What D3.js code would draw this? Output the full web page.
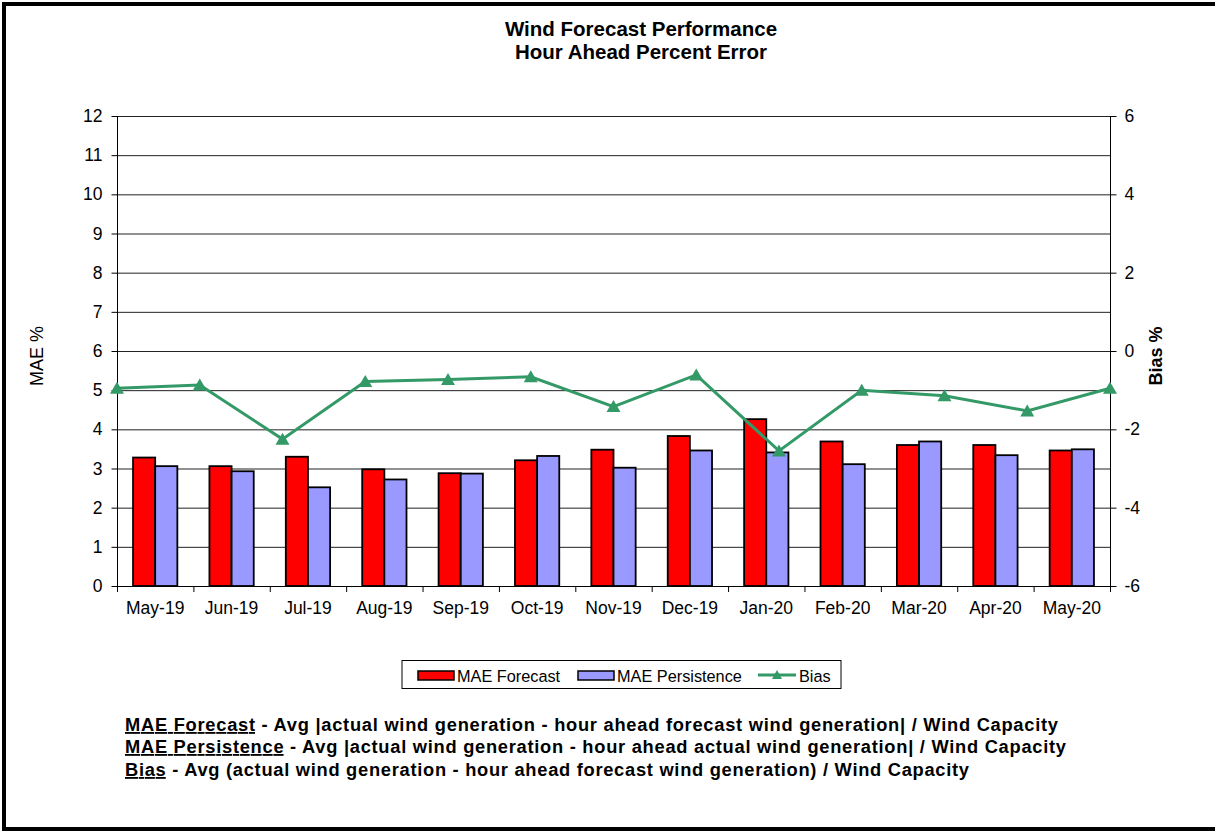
<!DOCTYPE html>
<html><head><meta charset="utf-8">
<script src="https://cdn.jsdelivr.net/npm/d3@7"></script>
<style>
body{margin:0;background:#fff;}
svg{display:block;font-family:Arial,"Liberation Sans",sans-serif;}
</style></head>
<body><svg id="c" width="1215" height="833"></svg>
<script>
const categories = ["May-19","Jun-19","Jul-19","Aug-19","Sep-19","Oct-19","Nov-19","Dec-19","Jan-20","Feb-20","Mar-20","Apr-20","May-20"];
const maeForecast = [3.28,3.06,3.30,2.98,2.88,3.21,3.48,3.83,4.26,3.69,3.60,3.60,3.46];
const maePersistence = [3.06,2.93,2.52,2.72,2.87,3.32,3.02,3.46,3.41,3.11,3.69,3.34,3.49];
const bias = [-0.95,-0.87,-2.25,-0.78,-0.73,-0.66,-1.42,-0.61,-2.55,-1.00,-1.14,-1.53,-0.95];
const leftTicks = [0,1,2,3,4,5,6,7,8,9,10,11,12];
const rightTicks = [-6,-4,-2,0,2,4,6];
const seriesNames = ["MAE Forecast","MAE Persistence","Bias"];
const colors = {"MAE Forecast":"#FF0000","MAE Persistence":"#9999FF","Bias":"#339966"};

const svg = d3.select("#c");
const L = 117, R = 1110, T = 116, B = 586;
const FONT = "Arial,'Liberation Sans',sans-serif";

// frame
svg.append("rect").attr("x",4).attr("y",4).attr("width",1220).attr("height",825)
  .attr("fill","none").attr("stroke","#000").attr("stroke-width",4);

// title
const title = svg.append("text").attr("text-anchor","middle").attr("font-weight","bold").attr("font-size",20.5);
title.append("tspan").attr("x",641).attr("y",36).text("Wind Forecast Performance");
title.append("tspan").attr("x",641).attr("y",59).text("Hour Ahead Percent Error");

const x = d3.scaleBand().domain(categories).range([L,R]).padding(0);
const groupW = x.bandwidth()*0.58;
const x1 = d3.scaleBand().domain([0,1]).range([(x.bandwidth()-groupW)/2,(x.bandwidth()+groupW)/2]).padding(0);
const xp = d3.scalePoint().domain(categories).range([L,R]).padding(0);
const y = d3.scaleLinear().domain([0,12]).range([B,T]);
const y2 = d3.scaleLinear().domain([-6,6]).range([B,T]);

// gridlines
svg.append("g").selectAll("line").data(leftTicks).join("line")
  .attr("x1",L).attr("x2",R).attr("y1",d=>y(d)+0.5).attr("y2",d=>y(d)+0.5)
  .attr("stroke","#222").attr("stroke-width",1);

// left axis
const gl = svg.append("g").attr("transform",`translate(${L+0.5},0)`)
  .call(d3.axisLeft(y).tickValues(leftTicks).tickSize(6).tickPadding(9).tickFormat(d=>String(d)));
gl.select(".domain").attr("stroke","#000").attr("d",`M0,${T}V${B}`);
gl.selectAll("text").attr("font-size",17.5).attr("fill","#000").attr("font-family",FONT);

// right axis
const gr = svg.append("g").attr("transform",`translate(${R+0.5},0)`)
  .call(d3.axisRight(y2).tickValues(rightTicks).tickSize(6).tickPadding(8).tickFormat(d=>String(d)));
gr.select(".domain").attr("stroke","#000").attr("d",`M0,${T}V${B}`);
gr.selectAll("text").attr("font-size",17.5).attr("fill","#000").attr("font-family",FONT);

// bars
const data = categories.map((c,i)=>({c, v:[maeForecast[i],maePersistence[i]]}));
const gb = svg.append("g");
gb.selectAll("g").data(data).join("g").attr("transform",d=>`translate(${x(d.c)},0)`)
  .selectAll("rect").data(d=>d.v.map((v,k)=>({v,k}))).join("rect")
  .attr("x",d=>x1(d.k)).attr("width",x1.bandwidth())
  .attr("y",d=>y(d.v)).attr("height",d=>B-y(d.v))
  .attr("fill",d=>d.k===0?colors["MAE Forecast"]:colors["MAE Persistence"])
  .attr("stroke","#000").attr("stroke-width",1.8);

// bottom axis
const gx = svg.append("g").attr("transform",`translate(0,${B+0.5})`)
  .call(d3.axisBottom(x).tickSize(0).tickPadding(15));
gx.select(".domain").attr("stroke","#000").attr("d",`M${L},0H${R}`);
gx.selectAll("text").attr("font-size",17.5).attr("fill","#000").attr("font-family",FONT);
svg.append("g").selectAll("line").data(d3.range(categories.length+1)).join("line")
  .attr("x1",i=>L+i*x.step()+0.5).attr("x2",i=>L+i*x.step()+0.5)
  .attr("y1",B).attr("y2",B+6).attr("stroke","#000");

// bias line
const line = d3.line().x((d,i)=>xp(categories[i])).y(d=>y2(d));
svg.append("path").datum(bias).attr("d",line).attr("fill","none")
  .attr("stroke",colors.Bias).attr("stroke-width",3).attr("stroke-linejoin","miter");
const tri = "M0,-6.5L7,5.5L-7,5.5Z";
svg.append("g").selectAll("path").data(bias).join("path")
  .attr("transform",(d,i)=>`translate(${xp(categories[i])},${y2(d)})`)
  .attr("d",tri).attr("fill",colors.Bias);

// axis titles
svg.append("text").attr("transform","translate(43,356) rotate(-90)").attr("text-anchor","middle")
  .attr("font-size",18).text("MAE %");
svg.append("text").attr("transform","translate(1162,356) rotate(-90)").attr("text-anchor","middle")
  .attr("font-size",18).attr("font-weight","bold").text("Bias %");

// legend
const lg = svg.append("g");
lg.append("rect").attr("x",402).attr("y",660.5).attr("width",439).attr("height",28)
  .attr("fill","#fff").attr("stroke","#000").attr("stroke-width",1);
const legendItems = [
  {name:seriesNames[0], sx:418, tx:457},
  {name:seriesNames[1], sx:578, tx:617},
  {name:seriesNames[2], sx:758, tx:799}
];
legendItems.forEach(it=>{
  if(it.name==="Bias"){
    lg.append("line").attr("x1",it.sx).attr("x2",it.sx+38).attr("y1",675).attr("y2",675)
      .attr("stroke",colors.Bias).attr("stroke-width",3);
    lg.append("path").attr("transform",`translate(${it.sx+19},675)`).attr("d","M0,-5L5,4L-5,4Z").attr("fill",colors.Bias);
  } else {
    lg.append("rect").attr("x",it.sx).attr("y",671).attr("width",36).attr("height",9)
      .attr("fill",colors[it.name]).attr("stroke","#000").attr("stroke-width",1.5);
  }
  lg.append("text").attr("x",it.tx).attr("y",681.5).attr("font-size",16.3).text(it.name);
});

// footnotes
const notes = [
  ["MAE Forecast"," - Avg |actual wind generation - hour ahead forecast wind generation| / Wind Capacity"],
  ["MAE Persistence"," - Avg |actual wind generation - hour ahead actual wind generation| / Wind Capacity"],
  ["Bias"," - Avg (actual wind generation - hour ahead forecast wind generation) / Wind Capacity"]
];
const ny = [731,753,776];
const nw = [933,941,844];
notes.forEach((n,i)=>{
  const t = svg.append("text").attr("x",125).attr("y",ny[i]).attr("font-size",18.3).attr("font-weight","bold")
    .attr("textLength",nw[i]).attr("lengthAdjust","spacing");
  t.append("tspan").attr("text-decoration","underline").text(n[0]);
  t.append("tspan").text(n[1]);
});
</script></body></html>
